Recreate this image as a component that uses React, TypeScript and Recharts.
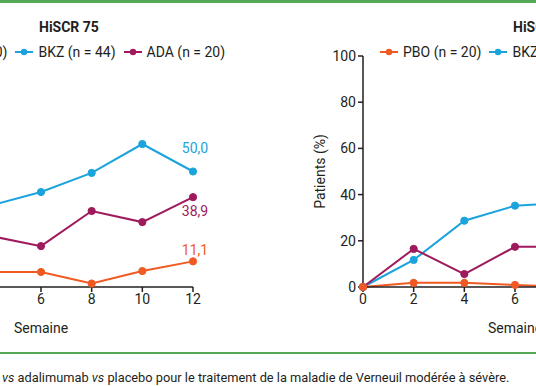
import React from 'react';
import { LineChart, Line, XAxis, YAxis, Legend, LabelList } from 'recharts';

// HiSCR 75 (left panel, only weeks 4-12 are inside the crop)
const weeks75 = [4, 6, 8, 10, 12];
const pbo75 = [6.5, 6.5, 1.5, 6.9, 11.1];
const bkz75 = [35.2, 41.1, 49.4, 61.9, 50.0];
const ada75 = [22.1, 17.7, 32.9, 28.1, 38.9];

// HiSCR 90 (right panel, only weeks 0-8 are inside the crop)
const weeks90 = [0, 2, 4, 6, 8];
const pbo90 = [0, 1.8, 1.8, 0.9, 0];
const bkz90 = [0, 11.7, 28.7, 35.2, 36.5];
const ada90 = [0, 16.5, 5.6, 17.4, 17.4];

const xTicks = [0, 2, 4, 6, 8, 10, 12];
const yTicks = [0, 20, 40, 60, 80, 100];
const legendOrder = ['PBO (n = 20)', 'BKZ (n = 44)', 'ADA (n = 20)'];

const COLORS = { pbo: '#f05a22', bkz: '#1ba3dd', ada: '#9e1a5c' };
const FONT = 'Roboto, "Noto Sans", sans-serif';
const INK = '#231f20';

const fmt = (v: number) => v.toFixed(1).replace('.', ',');

// label only on the last point, offset above/below it
const lastLabel = (count: number, color: string, dy: number) => (props: any) => {
  const { x, y, value, index } = props;
  if (index !== count - 1) return null;
  return (
    <text x={x + 2} y={y + dy} fill={color} fontSize={14} fontFamily={FONT} textAnchor="middle" dominantBaseline="central">
      {fmt(value)}
    </text>
  );
};

const renderLegend = (props: any) => {
  const items = [...(props.payload || [])].sort(
    (a: any, b: any) => legendOrder.indexOf(a.value) - legendOrder.indexOf(b.value)
  );
  return (
    <div style={{ display: 'flex', alignItems: 'center', whiteSpace: 'nowrap', fontFamily: FONT, fontSize: 14, color: INK }}>
      {items.map((it: any) => (
        <span key={it.value} style={{ display: 'inline-flex', alignItems: 'center', marginRight: 8 }}>
          <svg width={18} height={10} style={{ marginRight: 5 }}>
            <line x1={0} y1={5} x2={18} y2={5} stroke={it.color} strokeWidth={2} />
            <circle cx={9} cy={5} r={3.2} fill={it.color} />
          </svg>
          {it.value}
        </span>
      ))}
    </div>
  );
};

interface PanelProps {
  left: number;
  title: string;
  weeks: number[];
  pbo: number[];
  bkz: number[];
  ada: number[];
  labels?: boolean;
}

const Panel: React.FC<PanelProps> = ({ left, title, weeks, pbo, bkz, ada, labels }) => {
  const rows = weeks.map((w, i) => ({ week: w, pbo: pbo[i], bkz: bkz[i], ada: ada[i] }));
  const n = rows.length;
  const dot = (c: string) => ({ r: 3.6, fill: c, stroke: c, strokeWidth: 1 });
  return (
    <div style={{ position: 'absolute', left, top: 0, width: 430, height: 345 }}>
      <div style={{ position: 'absolute', left: 235, top: 18, fontFamily: FONT, fontWeight: 700, fontSize: 14, lineHeight: '18px', color: INK, whiteSpace: 'nowrap' }}>
        {title}
      </div>
      <LineChart width={430} height={345} data={rows} margin={{ top: 56, right: 41, bottom: 8, left: 35 }}>
        <XAxis
          dataKey="week" type="number" domain={[0, 12]} ticks={xTicks} tickSize={5}
          height={50} stroke={INK} strokeWidth={1.5}
          tick={{ fill: INK, fontSize: 14, fontFamily: FONT }}
          label={{ value: 'Semaine', position: 'insideBottom', offset: 4, fill: INK, fontSize: 14, fontFamily: FONT }}
        />
        <YAxis
          type="number" domain={[0, 100]} ticks={yTicks} tickSize={5} width={50}
          stroke={INK} strokeWidth={1.5}
          tick={{ fill: INK, fontSize: 14, fontFamily: FONT }}
          label={{ value: 'Patients (%)', angle: -90, position: 'insideLeft', offset: 0, dx: 7, fill: INK, fontSize: 14, fontFamily: FONT, style: { textAnchor: 'middle' } }}
        />
        <Legend layout="horizontal" align="center" verticalAlign="middle" content={renderLegend}
          wrapperStyle={{ top: 44, left: 102, width: 'auto' }} />
        <Line name="BKZ (n = 44)" dataKey="bkz" stroke={COLORS.bkz} strokeWidth={2} dot={dot(COLORS.bkz)} isAnimationActive={false}>
          {labels && <LabelList dataKey="bkz" content={lastLabel(n, COLORS.bkz, -24)} />}
        </Line>
        <Line name="ADA (n = 20)" dataKey="ada" stroke={COLORS.ada} strokeWidth={2} dot={dot(COLORS.ada)} isAnimationActive={false}>
          {labels && <LabelList dataKey="ada" content={lastLabel(n, COLORS.ada, 14)} />}
        </Line>
        <Line name="PBO (n = 20)" dataKey="pbo" stroke={COLORS.pbo} strokeWidth={2} dot={dot(COLORS.pbo)} isAnimationActive={false}>
          {labels && <LabelList dataKey="pbo" content={lastLabel(n, COLORS.pbo, -11)} />}
        </Line>
      </LineChart>
    </div>
  );
};

export default function App() {
  return (
    <div style={{ position: 'absolute', left: 0, top: 0, width: 536, height: 386, overflow: 'hidden', background: '#fff' }}>
      <div style={{ position: 'absolute', left: 0, top: 0, width: 536, height: 3, background: '#55a955' }} />
      <Panel left={-196} title="HiSCR 75" weeks={weeks75} pbo={pbo75} bkz={bkz75} ada={ada75} labels />
      <Panel left={278} title="HiSCR 90" weeks={weeks90} pbo={pbo90} bkz={bkz90} ada={ada90} />
      <div style={{ position: 'absolute', left: 0, top: 352, width: 536, height: 2, background: '#55a955' }} />
      <div style={{ position: 'absolute', left: 2, top: 370, fontFamily: FONT, fontSize: 12.8, lineHeight: '16px', color: INK, whiteSpace: 'nowrap' }}>
        <i>vs</i> adalimumab <i>vs</i> placebo pour le traitement de la maladie de Verneuil modérée à sévère.
      </div>
    </div>
  );
}
